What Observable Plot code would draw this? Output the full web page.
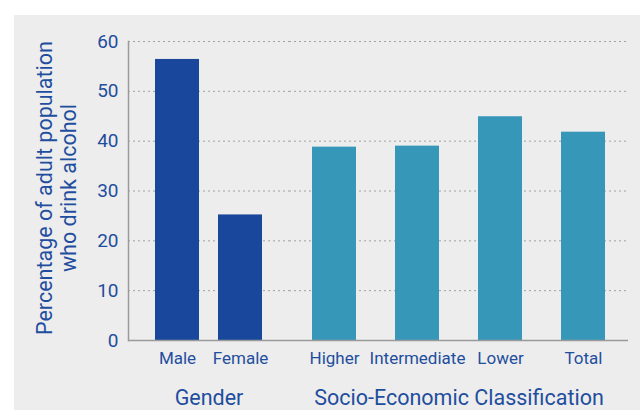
<!DOCTYPE html>
<html><head><meta charset="utf-8">
<script src="https://cdn.jsdelivr.net/npm/d3@7"></script>
<script src="https://cdn.jsdelivr.net/npm/@observablehq/plot@0.6"></script>
<style>
html,body{margin:0;padding:0;background:#fff;width:640px;height:410px;overflow:hidden}
#panel{position:absolute;left:14px;top:15px;width:626px;height:395px;background:#ededed;display:flex}
#panel svg{display:block;flex:none}
#panel g[aria-label="x-axis label"]{font-size:21.5px}
</style></head><body><div id="panel"></div>
<script>
const genderCats = ["Male", "Female"];
const genderValues = [56.4, 25.2];
const secCats = ["Higher", "Intermediate", "Lower", "Total"];
const secValues = [38.8, 39.0, 44.9, 41.8];
const yTicks = [0, 10, 20, 30, 40, 50, 60];
const groupLabels = ["Gender", "Socio-Economic Classification"];
const yLabel = "Percentage of adult population\nwho drink alcohol";

const textColor = "#1f4e9e";
const genderColor = "#19479c";
const secColor = "#3797b9";
const gridColor = "#a0a0a0";
const axisColor = "#9a9a9a";

const genderData = genderCats.map((c, i) => ({cat: c, value: genderValues[i]}));
const secData = secCats.map((c, i) => ({cat: c, value: secValues[i]}));

const common = {
  height: 395,
  marginTop: 26,
  marginBottom: 70,
  style: {background: "transparent", fontFamily: "Roboto, sans-serif", color: textColor, overflow: "visible"}
};

const p1 = Plot.plot({
  ...common,
  width: 275,
  marginLeft: 114,
  marginRight: 0,
  x: {domain: genderCats, paddingInner: 0.307, paddingOuter: 0.42},
  y: {domain: [0, 60]},
  marks: [
    Plot.gridY(yTicks.filter(d => d > 0), {stroke: gridColor, strokeOpacity: 1, strokeDasharray: "2,3"}),
    Plot.barY(genderData, {x: "cat", y: "value", fill: genderColor}),
    Plot.ruleY([0], {stroke: axisColor, strokeWidth: 1.5}),
    Plot.frame({anchor: "left", stroke: axisColor, strokeWidth: 1.5}),
    Plot.axisY({ticks: yTicks, tickSize: 0, tickPadding: 10, fontSize: 19, label: null}),
    Plot.text([yLabel], {frameAnchor: "left", rotate: -90, dx: -94, dy: -3, lineAnchor: "top", textAnchor: "middle", lineHeight: 1.12, fontSize: 21.5, fill: textColor}),
    Plot.axisX({tickSize: 0, tickPadding: 11, fontSize: 17, label: groupLabels[0], labelAnchor: "center", labelArrow: "none", labelOffset: 64})
  ]
});

const p2 = Plot.plot({
  ...common,
  width: 351,
  marginLeft: 0,
  marginRight: 12,
  x: {domain: secCats, paddingInner: 0.47, paddingOuter: 0.277},
  y: {domain: [0, 60], axis: null},
  marks: [
    Plot.gridY(yTicks.filter(d => d > 0), {stroke: gridColor, strokeOpacity: 1, strokeDasharray: "2,3"}),
    Plot.barY(secData, {x: "cat", y: "value", fill: secColor}),
    Plot.ruleY([0], {stroke: axisColor, strokeWidth: 1.5}),
    Plot.axisX({tickSize: 0, tickPadding: 11, fontSize: 17, label: groupLabels[1], labelAnchor: "center", labelArrow: "none", labelOffset: 64})
  ]
});

const panel = document.getElementById("panel");
panel.appendChild(p1);
panel.appendChild(p2);
</script></body></html>
